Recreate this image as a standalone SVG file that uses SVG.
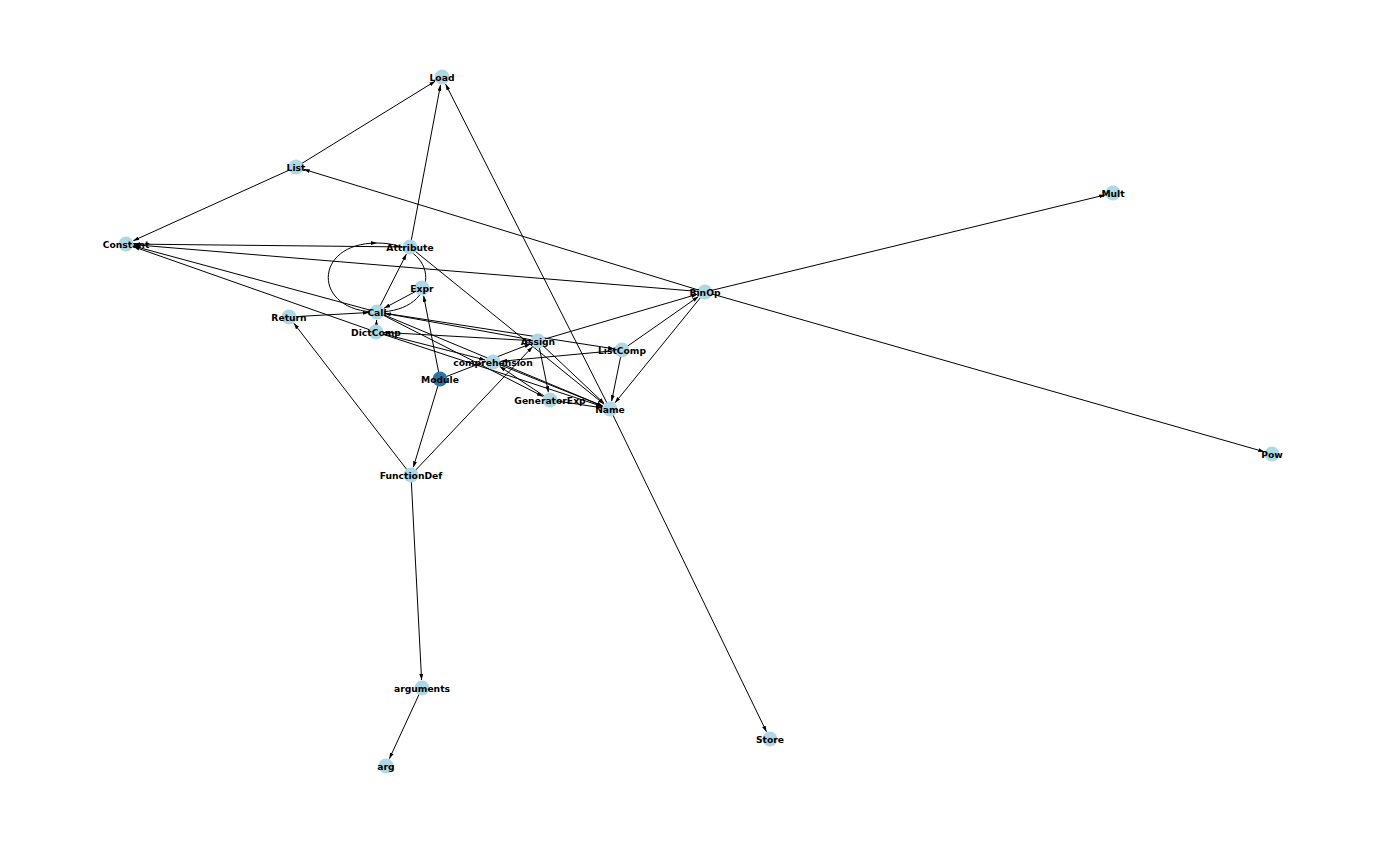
<svg xmlns="http://www.w3.org/2000/svg" width="1400" height="844" viewBox="0 0 1400 844">
<style>
.e{stroke:#000;stroke-width:1;fill:none;marker-end:url(#ah)}
.n{fill:#add8e6}
.m{fill:#2c77a8}
.t{font-family:"DejaVu Sans",sans-serif;font-weight:bold;font-size:9.2px;fill:#000;text-anchor:middle;dominant-baseline:central}
</style>
<defs>
<marker id="ah" viewBox="0 0 6 4" refX="6" refY="2" markerWidth="6" markerHeight="4" markerUnits="userSpaceOnUse" orient="auto">
<path d="M0,0 L6,2 L0,4 z" fill="#000"/>
</marker>
</defs>
<rect width="1400" height="844" fill="#fff"/>
<g id="edges">
<line class="e" x1="296" y1="167" x2="435.2" y2="81.2"/>
<line class="e" x1="410" y1="247" x2="440.5" y2="84.9"/>
<line class="e" x1="610" y1="409" x2="445.6" y2="84.1"/>
<line class="e" x1="610" y1="409" x2="766.5" y2="731.8"/>
<line class="e" x1="296" y1="167" x2="133.3" y2="240.7"/>
<line class="e" x1="705" y1="292" x2="303.7" y2="169.3"/>
<line class="e" x1="410" y1="247" x2="134" y2="244.1"/>
<line class="e" x1="705" y1="292" x2="134" y2="244.7"/>
<line class="e" x1="377" y1="312" x2="133.7" y2="246.1"/>
<line class="e" x1="376" y1="332" x2="133.5" y2="246.7"/>
<path class="e" d="M377,243 C442,243 442,312 377,312 C312,312 312,243 377,243"/>
<line class="e" x1="377" y1="312" x2="406.4" y2="254.1"/>
<line class="e" x1="422" y1="288" x2="384.1" y2="308.2"/>
<line class="e" x1="440" y1="379" x2="423.6" y2="295.8"/>
<line class="e" x1="376" y1="332" x2="376.6" y2="320"/>
<line class="e" x1="289" y1="317" x2="369" y2="312.5"/>
<line class="e" x1="411" y1="475" x2="293.9" y2="323.3"/>
<line class="e" x1="440" y1="379" x2="413.3" y2="467.3"/>
<line class="e" x1="411" y1="475" x2="421.6" y2="680"/>
<line class="e" x1="422" y1="688" x2="389.4" y2="758.7"/>
<line class="e" x1="411" y1="475" x2="532.5" y2="346.8"/>
<line class="e" x1="440" y1="379" x2="530.5" y2="343.9"/>
<line class="e" x1="538" y1="341" x2="604.2" y2="403.5"/>
<line class="e" x1="538" y1="341" x2="548.4" y2="392.2"/>
<line class="e" x1="538" y1="341" x2="697.3" y2="294.3"/>
<line class="e" x1="538" y1="341" x2="384.9" y2="313.4"/>
<line class="e" x1="622" y1="350" x2="698.4" y2="296.6"/>
<line class="e" x1="622" y1="350" x2="611.6" y2="401.2"/>
<line class="e" x1="622" y1="350" x2="501" y2="361.3"/>
<line class="e" x1="550" y1="400" x2="499.7" y2="366.4"/>
<line class="e" x1="550" y1="400" x2="602.1" y2="407.8"/>
<line class="e" x1="493" y1="362" x2="602.6" y2="406"/>
<line class="e" x1="377" y1="312" x2="602.6" y2="405.9"/>
<line class="e" x1="376" y1="332" x2="602.4" y2="406.5"/>
<line class="e" x1="376" y1="332" x2="485.3" y2="360"/>
<line class="e" x1="410" y1="247" x2="603.8" y2="404"/>
<line class="e" x1="705" y1="292" x2="615" y2="402.8"/>
<line class="e" x1="705" y1="292" x2="1105.2" y2="194.9"/>
<line class="e" x1="705" y1="292" x2="1264.3" y2="451.8"/>
<line class="e" x1="377" y1="312" x2="614.1" y2="348.8"/>
<line class="e" x1="377" y1="312" x2="542.9" y2="396.4"/>
<line class="e" x1="538" y1="341" x2="384" y2="332.4"/>
</g>
<g id="Load"><circle class="n" cx="442" cy="77" r="7.5"/><text class="t" x="442" y="77">Load</text></g>
<g id="List"><circle class="n" cx="296" cy="167" r="7.5"/><text class="t" x="296" y="167">List</text></g>
<g id="Constant"><circle class="n" cx="126" cy="244" r="7.5"/><text class="t" x="126" y="244">Constant</text></g>
<g id="Attribute"><circle class="n" cx="410" cy="247" r="7.5"/><text class="t" x="410" y="247">Attribute</text></g>
<g id="Expr"><circle class="n" cx="422" cy="288" r="7.5"/><text class="t" x="422" y="288">Expr</text></g>
<g id="Call"><circle class="n" cx="377" cy="312" r="7.5"/><text class="t" x="377" y="312">Call</text></g>
<g id="Return"><circle class="n" cx="289" cy="317" r="7.5"/><text class="t" x="289" y="317">Return</text></g>
<g id="DictComp"><circle class="n" cx="376" cy="332" r="7.5"/><text class="t" x="376" y="332">DictComp</text></g>
<g id="Assign"><circle class="n" cx="538" cy="341" r="7.5"/><text class="t" x="538" y="341">Assign</text></g>
<g id="ListComp"><circle class="n" cx="622" cy="350" r="7.5"/><text class="t" x="622" y="350">ListComp</text></g>
<g id="comprehension"><circle class="n" cx="493" cy="362" r="7.5"/><text class="t" x="493" y="362">comprehension</text></g>
<g id="Module"><circle class="m" cx="440" cy="379" r="7.5"/><text class="t" x="440" y="379">Module</text></g>
<g id="GeneratorExp"><circle class="n" cx="550" cy="400" r="7.5"/><text class="t" x="550" y="400">GeneratorExp</text></g>
<g id="Name"><circle class="n" cx="610" cy="409" r="7.5"/><text class="t" x="610" y="409">Name</text></g>
<g id="BinOp"><circle class="n" cx="705" cy="292" r="7.5"/><text class="t" x="705" y="292">BinOp</text></g>
<g id="Mult"><circle class="n" cx="1113" cy="193" r="7.5"/><text class="t" x="1113" y="193">Mult</text></g>
<g id="Pow"><circle class="n" cx="1272" cy="454" r="7.5"/><text class="t" x="1272" y="454">Pow</text></g>
<g id="FunctionDef"><circle class="n" cx="411" cy="475" r="7.5"/><text class="t" x="411" y="475">FunctionDef</text></g>
<g id="arguments"><circle class="n" cx="422" cy="688" r="7.5"/><text class="t" x="422" y="688">arguments</text></g>
<g id="arg"><circle class="n" cx="386" cy="766" r="7.5"/><text class="t" x="386" y="766">arg</text></g>
<g id="Store"><circle class="n" cx="770" cy="739" r="7.5"/><text class="t" x="770" y="739">Store</text></g>
</svg>
